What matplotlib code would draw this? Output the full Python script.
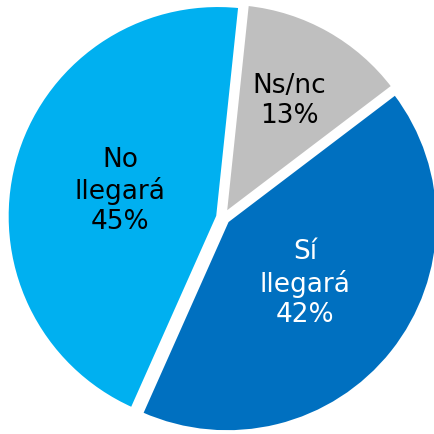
import numpy as np
import matplotlib
matplotlib.use("Agg")
import matplotlib.pyplot as plt

plt.rcParams["font.family"] = ["DejaVu Sans"]

# datos
categorias = ["Ns/nc", "Sí\nllegará", "No\nllegará"]
valores = [13, 42, 45]
colores = ["#BFBFBF", "#0070C0", "#00B0F0"]
color_texto = ["#000000", "#ffffff", "#000000"]
dist_etiqueta = [0.62, 0.47, 0.48]   # radio relativo de cada etiqueta
separacion = [0.02, 0.025, 0.025]

fig = plt.figure(figsize=(4.34, 4.35), dpi=100, facecolor="#ffffff")
ax = fig.add_axes([0, 0, 1, 1])

wedges, _ = ax.pie(valores, colors=colores, startangle=84, counterclock=False,
                   explode=separacion,
                   wedgeprops=dict(edgecolor="#ffffff", linewidth=2.5))

for w, cat, val, col, d in zip(wedges, categorias, valores, color_texto, dist_etiqueta):
    ang = np.deg2rad((w.theta1 + w.theta2) / 2)
    cx, cy = w.center
    ax.text(cx + d * np.cos(ang), cy + d * np.sin(ang), f"{cat}\n{val}%",
            ha="center", va="center", color=col, fontsize=19, linespacing=1.2)

ax.set_xlim(-1.057, 1.0)
ax.set_ylim(-1.025, 1.036)
ax.set_aspect("equal")
ax.axis("off")

fig.savefig("out.png", dpi=100, facecolor="#ffffff")
